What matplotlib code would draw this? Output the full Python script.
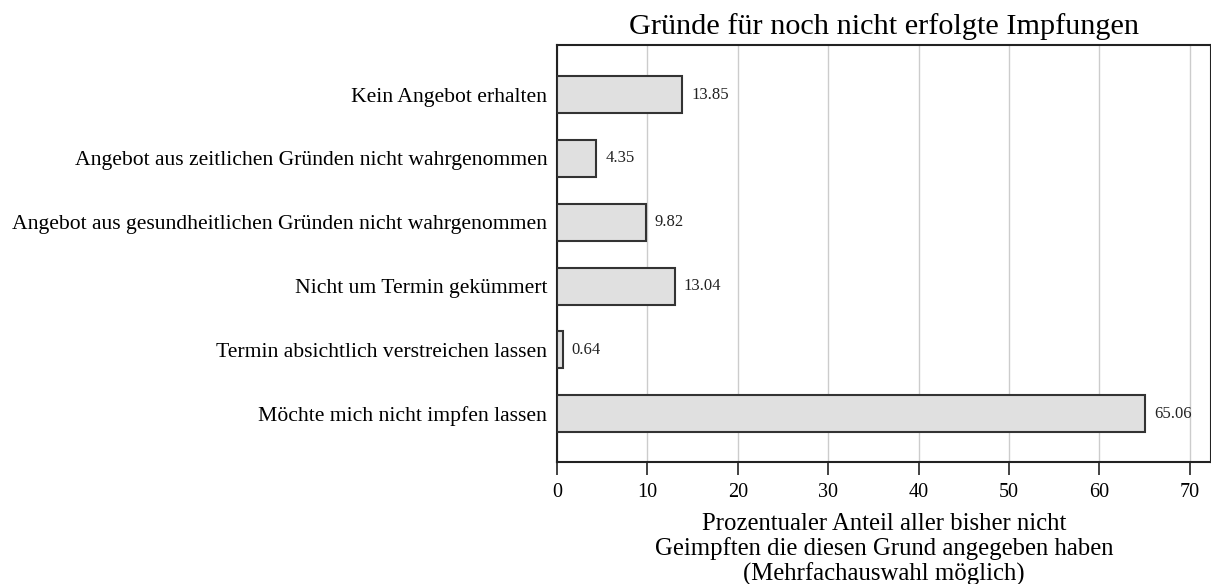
import matplotlib
matplotlib.use("Agg")
import matplotlib.pyplot as plt

categories = [
    "Kein Angebot erhalten",
    "Angebot aus zeitlichen Gründen nicht wahrgenommen",
    "Angebot aus gesundheitlichen Gründen nicht wahrgenommen",
    "Nicht um Termin gekümmert",
    "Termin absichtlich verstreichen lassen",
    "Möchte mich nicht impfen lassen",
]
values = [13.85, 4.35, 9.82, 13.04, 0.64, 65.06]
xticks = [0, 10, 20, 30, 40, 50, 60, 70]

title = "Gründe für noch nicht erfolgte Impfungen"
xlabel = ("Prozentualer Anteil aller bisher nicht\n"
          "Geimpften die diesen Grund angegeben haben\n"
          "(Mehrfachauswahl möglich)")

plt.rcParams['font.family'] = ['Liberation Serif', 'DejaVu Serif']

W, H = 1211, 584
fig = plt.figure(figsize=(W / 100, H / 100), dpi=100)
left, right, top, bottom = 557, 1211, 45, 462
ax = fig.add_axes([left / W, 1 - bottom / H, (right - left) / W, (bottom - top) / H])

y = list(range(len(categories)))
ax.barh(y, values, height=0.58, color="#e0e0e0", edgecolor="#333333", linewidth=1.5, zorder=3)
for yi, v in zip(y, values):
    ax.annotate(f"{v:.2f}", (v, yi), xytext=(6.5, 0), textcoords="offset points",
                va="center", ha="left", fontsize=12, color="#222222", zorder=4)

ax.set_xlim(0, (right - left) / 9.04)
ax.set_ylim(5.76, -0.78)
ax.set_yticks(y)
ax.set_yticklabels(categories, fontsize=15.6)
ax.set_xticks(xticks)
ax.set_xticklabels([str(t) for t in xticks], fontsize=14.5)
ax.tick_params(axis="y", length=0, pad=7)
ax.tick_params(axis="x", length=9, width=1.2, pad=6, color="#222222")
ax.grid(axis="x", color="#cccccc", linewidth=1, zorder=0)
for s in ax.spines.values():
    s.set_color("#222222")
    s.set_linewidth(1.5)
ax.set_title(title, fontsize=21.8, pad=8)
ax.set_xlabel(xlabel, fontsize=17.8, linespacing=1.14, labelpad=8)

fig.savefig("out.png", dpi=100)
